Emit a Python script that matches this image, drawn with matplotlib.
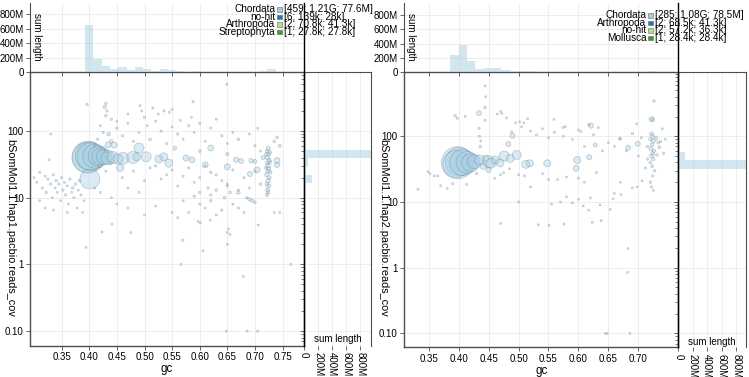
import matplotlib.pyplot as plt
import matplotlib.ticker as mticker
from matplotlib.lines import Line2D
from matplotlib.patches import Rectangle
import numpy as np

plt.rcParams['font.family'] = ['Liberation Sans', 'DejaVu Sans']

W, H = 749, 377

# ---- hap1 (left panel) ----
# contigs: (gc, coverage, length in Mb)
hap1_big = [
    (0.398, 40.7, 77.6), (0.401, 19.0, 30.0), (0.403, 41.0, 59.0), (0.396, 40.0, 70.0),
    (0.400, 42.0, 60.0), (0.410, 42.0, 44.0), (0.416, 42.0, 30.0), (0.421, 41.0, 24.0),
    (0.427, 41.0, 19.0), (0.434, 40.0, 15.0), (0.443, 40.0, 11.0), (0.452, 38.0, 7.6),
    (0.461, 39.0, 11.0), (0.479, 40.0, 11.0), (0.490, 55.6, 7.6), (0.503, 41.0, 7.6),
    (0.486, 41.0, 4.9), (0.526, 38.0, 4.9), (0.535, 41.0, 4.9), (0.544, 33.0, 4.9),
    (0.456, 28.0, 4.0), (0.445, 61.6, 2.7), (0.434, 62.0, 2.7), (0.575, 39.4, 2.7),
    (0.586, 37.0, 2.7), (0.620, 55.6, 2.7), (0.610, 31.0, 2.7), (0.650, 29.0, 2.7),
    (0.666, 37.0, 1.9), (0.675, 35.5, 1.9), (0.691, 22.7, 1.9), (0.704, 26.0, 2.7),
    (0.740, 36.0, 2.7), (0.740, 31.0, 1.9),
]
hap1_small = [
    (0.724, 55, 1.2), (0.722, 50, 0.8), (0.725, 45, 1.2), (0.723, 40, 1.5), (0.726, 36, 1.2),
    (0.722, 33, 1.0), (0.724, 30, 1.5), (0.725, 27, 1.2), (0.723, 25, 1.0), (0.721, 22, 1.2),
    (0.726, 20, 1.0), (0.724, 18, 1.5), (0.722, 16, 1.2), (0.725, 15, 1.0), (0.723, 13, 1.2),
    (0.724, 12, 1.0), (0.722, 11, 0.8), (0.727, 34, 0.8), (0.720, 28, 0.6), (0.728, 24, 0.8),
    (0.745, 60, 0.6), (0.735, 70, 0.5), (0.740, 80, 0.5), (0.720, 45, 0.6), (0.727, 48, 0.8),
    (0.300, 20, 0.3), (0.305, 17, 0.3), (0.310, 24, 0.4), (0.315, 14, 0.3), (0.320, 21, 0.3),
    (0.322, 12, 0.4), (0.325, 19, 0.3), (0.330, 16, 0.5), (0.333, 10, 0.3), (0.335, 22, 0.4),
    (0.338, 14, 0.3), (0.340, 18, 0.5), (0.342, 12, 0.3), (0.345, 16, 0.4), (0.348, 9, 0.3),
    (0.350, 20, 0.4), (0.352, 13, 0.5), (0.355, 17, 0.3), (0.357, 11, 0.4), (0.360, 15, 0.3),
    (0.362, 8, 0.3), (0.365, 19, 0.4), (0.368, 12, 0.3), (0.370, 14, 0.5), (0.372, 10, 0.3),
    (0.375, 16, 0.4), (0.378, 7, 0.3), (0.380, 13, 0.3), (0.382, 18, 0.4), (0.385, 11, 0.3),
    (0.388, 6, 0.3), (0.390, 9, 0.3), (0.310, 9, 0.3), (0.320, 7, 0.3), (0.335, 6.5, 0.3),
    (0.360, 6, 0.3), (0.327, 37, 0.3), (0.330, 90, 0.3),
    (0.396, 250, 0.4), (0.394, 1.8, 0.3), (0.430, 260, 0.5), (0.428, 230, 0.8), (0.432, 200, 0.4),
    (0.588, 275, 0.4), (0.649, 500, 0.3), (0.492, 240, 0.3), (0.535, 200, 0.4), (0.679, 0.66, 0.3),
    (0.566, 1.0, 0.3), (0.765, 1.0, 0.3), (0.606, 1.6, 0.3), (0.569, 2.3, 0.4), (0.475, 3.0, 0.3),
    (0.423, 3.05, 0.3), (0.441, 4.0, 0.3), (0.650, 2.0, 0.3), (0.650, 3.0, 0.3), (0.655, 2.8, 0.3),
    (0.652, 3.4, 0.3), (0.706, 3.9, 0.3), (0.619, 4.6, 0.3), (0.601, 4.2, 0.3), (0.597, 4.4, 0.3),
    (0.648, 0.1, 0.3), (0.686, 0.1, 0.3), (0.705, 0.1, 0.3),
    (0.58, 6, 0.3), (0.60, 8, 0.4), (0.61, 7, 0.3), (0.62, 9, 0.5), (0.63, 5.5, 0.3),
    (0.64, 6.5, 0.4), (0.66, 8, 0.3), (0.67, 7, 0.4), (0.55, 6, 0.3), (0.52, 7.5, 0.3),
    (0.50, 5.5, 0.3), (0.47, 7, 0.3), (0.45, 8, 0.3), (0.69, 9.5, 0.8), (0.695, 9, 0.8),
    (0.70, 8.5, 0.5), (0.68, 6, 0.3), (0.60, 12, 0.4), (0.62, 11, 0.4), (0.63, 13, 0.5),
    (0.65, 15, 0.4), (0.57, 9, 0.3), (0.56, 5, 0.3), (0.59, 10.5, 0.4), (0.645, 10, 0.5),
    (0.655, 12, 0.6), (0.615, 14, 0.4), (0.67, 12, 1.0), (0.685, 10, 0.4), (0.71, 16, 0.5),
    (0.735, 6, 0.3), (0.745, 6, 0.3),
    (0.44, 150, 0.4), (0.45, 110, 0.5), (0.46, 85, 0.4), (0.47, 130, 0.3), (0.48, 70, 0.4),
    (0.49, 95, 0.3), (0.50, 160, 0.4), (0.505, 120, 0.3), (0.51, 75, 0.5), (0.52, 140, 0.3),
    (0.525, 180, 0.3), (0.53, 100, 0.4), (0.54, 65, 0.4), (0.545, 190, 0.3), (0.55, 115, 0.3),
    (0.56, 90, 0.4), (0.565, 145, 0.3), (0.57, 75, 0.3), (0.58, 120, 0.4), (0.585, 160, 0.3),
    (0.59, 95, 0.3), (0.60, 130, 0.4), (0.61, 70, 0.3), (0.62, 110, 0.3), (0.63, 150, 0.3),
    (0.64, 85, 0.4), (0.65, 65, 0.3), (0.66, 95, 0.3), (0.67, 75, 0.5), (0.69, 90, 0.3),
    (0.70, 60, 0.4), (0.71, 50, 0.3), (0.705, 110, 0.3), (0.42, 120, 0.3), (0.43, 170, 0.5),
    (0.425, 95, 0.4), (0.415, 75, 0.4), (0.41, 60, 0.3), (0.45, 140, 0.3), (0.47, 180, 0.3),
    (0.495, 200, 0.3), (0.515, 220, 0.3), (0.55, 210, 0.3), (0.44, 70, 1.0), (0.425, 55, 1.0),
    (0.43, 50, 0.8), (0.435, 90, 1.0), (0.42, 30, 1.2), (0.438, 33, 1.0),
    (0.46, 20, 0.3), (0.48, 25, 0.4), (0.50, 18, 0.3), (0.52, 30, 0.4), (0.54, 22, 0.3),
    (0.56, 15, 0.3), (0.58, 28, 0.4), (0.60, 20, 0.3), (0.62, 24, 0.5), (0.64, 18, 0.3),
    (0.66, 26, 0.4), (0.68, 20, 0.3), (0.69, 14, 0.3), (0.70, 25, 0.4), (0.47, 14, 0.3),
    (0.49, 12, 0.3), (0.51, 28, 0.3), (0.53, 19, 0.3), (0.55, 26, 0.4), (0.57, 21, 0.3),
    (0.59, 17, 0.3), (0.61, 30, 0.3), (0.63, 22, 0.4), (0.65, 16, 0.3), (0.67, 13, 0.3),
    (0.43, 25, 0.3), (0.42, 12, 0.3), (0.44, 10, 0.3), (0.41, 14, 0.3), (0.693, 36, 1.5),
    (0.70, 35, 1.2), (0.715, 40, 1.2), (0.65, 45, 0.8), (0.60, 50, 0.6), (0.555, 55, 1.0),
]
hap1_gc_bins = [0.400, 0.415, 0.430, 0.445, 0.460, 0.475, 0.490, 0.505, 0.520, 0.535, 0.550, 0.565,
                0.580, 0.595, 0.610, 0.625, 0.640, 0.655, 0.670, 0.685, 0.700, 0.715, 0.730]
hap1_gc_sums = [649, 186, 83, 47, 75, 24, 65, 47, 10, 35, 25, 8, 6, 8, 5, 5, 4, 6, 4, 5, 5, 8, 47]
hap1_cov_edges = [12.3, 16.4, 21.9, 29.2, 39.0, 51.9, 69.0]
hap1_cov_sums = [6, 109, 5, 57, 1000, 28]
hap1_legend = [("Chordata", "[459; 1.21G; 77.6M]"), ("no-hit", "[6; 139k; 28k]"),
               ("Arthropoda", "[2; 70.8k; 41.3k]"), ("Streptophyta", "[1; 27.8k; 27.8k]")]

# ---- hap2 (right panel) ----
hap2_big = [
    (0.398, 39.6, 78.5), (0.401, 41.0, 60.0), (0.396, 38.0, 55.0), (0.407, 40.0, 52.0),
    (0.414, 40.0, 37.0), (0.420, 40.0, 25.0), (0.426, 41.0, 15.0), (0.435, 43.6, 7.7),
    (0.450, 41.0, 11.0), (0.454, 38.8, 7.7), (0.461, 43.6, 4.9), (0.469, 39.3, 4.9),
    (0.476, 50.0, 7.7), (0.486, 46.0, 4.9), (0.497, 52.0, 6.2), (0.512, 37.5, 4.9),
    (0.519, 38.8, 3.8), (0.548, 38.8, 3.8), (0.598, 43.6, 3.8), (0.596, 32.6, 2.7),
    (0.618, 48.0, 1.9), (0.621, 145, 1.9), (0.628, 74.0, 1.2), (0.683, 67.0, 1.9),
    (0.699, 77.0, 1.9), (0.722, 182, 1.9), (0.434, 226, 1.9), (0.483, 76.0, 1.9),
    (0.490, 102, 1.9), (0.450, 30.6, 1.9), (0.441, 35.0, 3.0), (0.445, 46.0, 3.0),
]
hap2_small = [
    (0.722, 110, 1.0), (0.724, 100, 1.2), (0.720, 90, 0.8), (0.725, 85, 1.2), (0.723, 75, 1.0),
    (0.721, 65, 1.2), (0.726, 60, 0.8), (0.724, 55, 1.0), (0.722, 50, 1.2), (0.725, 45, 0.8),
    (0.720, 40, 0.6), (0.723, 35, 0.6), (0.727, 30, 0.5), (0.724, 25, 0.4), (0.720, 20, 0.5),
    (0.722, 17, 0.4), (0.725, 15, 0.3), (0.730, 93, 0.8), (0.733, 80, 0.6), (0.735, 68, 0.6),
    (0.731, 52, 0.5), (0.726, 344, 0.5), (0.737, 83, 0.4), (0.742, 55, 0.4), (0.724, 180, 1.0),
    (0.332, 15.6, 0.3), (0.349, 29, 0.3), (0.352, 27, 0.3), (0.359, 25, 0.3), (0.365, 25, 0.3),
    (0.370, 17.7, 0.3), (0.381, 16, 0.3), (0.4135, 18.5, 0.3), (0.394, 205, 0.5), (0.398, 188, 0.4),
    (0.444, 583, 0.3), (0.445, 400, 0.3), (0.444, 273, 0.5), (0.444, 175, 0.4), (0.411, 200, 0.3),
    (0.4645, 218, 0.3), (0.472, 222, 0.3), (0.4885, 117, 0.3), (0.502, 167, 0.3), (0.509, 160, 0.3),
    (0.515, 185, 0.3), (0.559, 181, 0.3), (0.574, 136, 0.3), (0.578, 140, 0.3), (0.604, 118, 0.3),
    (0.6175, 150, 0.4), (0.633, 136, 0.3), (0.669, 93, 0.5), (0.67, 90, 0.3), (0.697, 155, 0.3),
    (0.434, 132, 0.4), (0.435, 100, 0.4), (0.437, 85, 0.3), (0.436, 70, 0.5), (0.47, 240, 0.3),
    (0.48, 190, 0.3), (0.495, 160, 0.3), (0.505, 140, 0.3), (0.52, 120, 0.3), (0.53, 105, 0.4),
    (0.54, 130, 0.3), (0.55, 95, 0.3), (0.56, 115, 0.4), (0.575, 100, 0.3), (0.59, 90, 0.3),
    (0.60, 125, 0.3), (0.61, 70, 0.3), (0.625, 105, 0.3), (0.64, 60, 0.4), (0.65, 80, 0.3),
    (0.66, 70, 0.3), (0.68, 60, 0.3), (0.70, 50, 0.3), (0.69, 110, 0.4), (0.705, 95, 0.3),
    (0.715, 70, 0.4), (0.74, 130, 0.3), (0.745, 90, 0.3),
    (0.533, 4.5, 0.3), (0.551, 4.4, 0.3), (0.576, 4.6, 0.3), (0.623, 4.9, 0.3), (0.638, 5.2, 0.3),
    (0.555, 9.3, 0.3), (0.683, 1.96, 0.3), (0.682, 0.85, 0.3), (0.59, 9.7, 0.3), (0.608, 8.7, 0.3),
    (0.617, 7.5, 0.3), (0.636, 9.0, 0.3), (0.653, 7.7, 0.3), (0.658, 11.2, 0.3), (0.671, 13, 0.3),
    (0.690, 16.5, 0.3), (0.698, 17, 0.3), (0.706, 21, 0.3), (0.712, 33, 0.4), (0.715, 45, 0.4),
    (0.54, 27, 0.3), (0.55, 22, 0.3), (0.565, 22, 0.3), (0.58, 24, 0.3), (0.60, 23, 0.3),
    (0.61, 20, 0.3), (0.63, 28, 0.4), (0.51, 25, 0.3), (0.52, 17, 0.3), (0.50, 26, 0.3),
    (0.485, 32, 0.3), (0.47, 26, 0.3), (0.475, 28, 0.3), (0.58, 12, 0.3), (0.60, 11, 0.3),
    (0.57, 10, 0.3), (0.62, 11.5, 0.3), (0.66, 13.5, 0.3), (0.67, 20, 0.3), (0.39, 19, 0.3),
    (0.43, 27, 0.4), (0.46, 23, 0.3), (0.645, 0.1, 0.3), (0.648, 0.1, 0.3), (0.686, 0.1, 0.3),
    (0.50, 10, 0.3), (0.47, 4.7, 0.3),
]
hap2_gc_bins = [0.393, 0.407, 0.421, 0.435, 0.450, 0.464, 0.478, 0.492, 0.506, 0.520, 0.535, 0.549,
                0.563, 0.577, 0.591, 0.605, 0.620, 0.634, 0.648, 0.662, 0.676, 0.690, 0.705, 0.723]
hap2_gc_sums = [242, 378, 158, 46, 64, 55, 30, 18, 18, 15, 8, 5, 5, 4, 5, 4, 3, 4, 3, 3, 3, 4, 5, 18]
hap2_cov_edges = [23.5, 31.8, 43.6, 58.3, 78.0]
hap2_cov_sums = [6, 980, 90, 8]
hap2_legend = [("Chordata", "[285; 1.08G; 78.5M]"), ("Arthropoda", "[2; 68.5k; 41.3k]"),
               ("no-hit", "[2; 57.2k; 36.3k]"), ("Mollusca", "[1; 28.4k; 28.4k]")]

legend_colors = ['#a6cee3', '#1f78b4', '#b2df8a', '#33a02c']
hist_ticks = [0, 200, 400, 600, 800]
hist_labels = ['0', '200M', '400M', '600M', '800M']

FRAME = '#4d4d4d'
GRID = '#ebebeb'
FS = 7.0


def box(x0, y0, x1, y1):
    return [x0 / W, 1 - y1 / H, (x1 - x0) / W, (y1 - y0) / H]


def draw_panel(fig, g, xlim, ylim, xticks, big, small, gc_bins, gc_w, gc_sums,
               cov_edges, cov_sums, top_max, right_max, ylabel, legend):
    x0, x1, xr, y0, y1 = g['x0'], g['x1'], g['xr'], g['y0'], g['y1']

    # main scatter
    ax = fig.add_axes(box(x0, y0, x1, y1))
    ax.set_facecolor('none')
    ax.set_yscale('log')
    ax.set_xlim(xlim)
    ax.set_ylim(ylim)
    contigs = sorted(big + small, key=lambda c: -c[2])
    gc = [c[0] for c in contigs]
    cov = [c[1] for c in contigs]
    ln = np.array([c[2] for c in contigs])
    ax.scatter(gc, cov, s=ln * 6.8, facecolor=(0.651, 0.808, 0.89, 0.4),
               edgecolor=(0.36, 0.47, 0.56, 0.4), linewidths=0.5, zorder=3)
    ax.set_xticks(xticks)
    ax.set_xticklabels(['%.2f' % t for t in xticks])
    ax.set_yticks([0.1, 1, 10, 100])
    ax.set_yticklabels(['0.10', '1', '10', '100'])
    ax.yaxis.set_minor_locator(mticker.NullLocator())
    ax.grid(True, color=GRID, lw=0.6)
    ax.set_axisbelow(True)
    for s in ax.spines.values():
        s.set_color(FRAME)
        s.set_linewidth(1.0)
    ax.tick_params(length=3, width=0.6, color=FRAME, labelsize=FS, pad=1.5)
    ax.set_xlabel('gc', fontsize=8.3, labelpad=1)
    fig.text(g['ylab_x'] / W, 1 - 228 / H, ylabel, rotation=270, fontsize=7.8,
             ha='center', va='center')

    # top histogram
    axt = fig.add_axes(box(x0, 3, x1, y0))
    axt.set_facecolor('none')
    axt.bar(gc_bins, gc_sums, width=gc_w, color=(0.651, 0.808, 0.89, 0.5), lw=0)
    axt.set_xlim(xlim)
    axt.set_ylim(0, top_max)
    axt.set_xticks(xticks)
    axt.set_xticklabels([])
    axt.set_yticks(hist_ticks)
    axt.set_yticklabels(hist_labels)
    axt.grid(True, color=GRID, lw=0.6)
    axt.set_axisbelow(True)
    for k in ['top', 'right', 'bottom']:
        axt.spines[k].set_visible(False)
    axt.spines['left'].set_color(FRAME)
    axt.tick_params(length=3, width=0.6, color=FRAME, labelsize=FS, pad=1.5)
    fig.text((x0 + 6.7) / W, 1 - 36.7 / H, 'sum length', rotation=270, fontsize=FS,
             ha='center', va='center')

    # right histogram
    axr = fig.add_axes(box(x1, y0, xr, y1))
    axr.set_facecolor('none')
    axr.set_yscale('log')
    axr.barh(cov_edges[:-1], cov_sums, height=np.diff(cov_edges), align='edge',
             color=(0.651, 0.808, 0.89, 0.5), lw=0)
    axr.set_ylim(ylim)
    axr.set_xlim(0, right_max)
    axr.set_xticks(hist_ticks)
    axr.set_xticklabels(hist_labels, rotation=270, va='top', ha='center')
    axr.set_yticks([0.1, 1, 10, 100])
    axr.yaxis.set_minor_locator(mticker.LogLocator(subs=np.arange(2, 10)))
    axr.yaxis.set_minor_formatter(mticker.NullFormatter())
    axr.set_yticklabels([])
    axr.grid(True, which='major', color=GRID, lw=0.6)
    axr.set_axisbelow(True)
    axr.spines['left'].set_visible(False)
    axr.spines['bottom'].set_visible(False)
    axr.spines['top'].set_color(FRAME)
    axr.spines['right'].set_color(FRAME)
    axr.tick_params(length=3, width=0.6, color=FRAME, labelsize=FS, pad=1.5)
    axr.tick_params(axis='y', which='minor', length=2, width=0.5, color=FRAME)
    fig.text((x1 + xr) / 2 / W, 1 - g['sl_y'] / H, 'sum length', fontsize=FS,
             ha='center', va='center')

    # black divider
    fig.add_artist(Line2D([x1 / W, x1 / W], [1 - 3 / H, 1 - y1 / H],
                          color='black', lw=1.0))

    # legend
    for i, (name, stats) in enumerate(legend):
        yy = g['leg_y'] + i * 7.6
        fig.text((g['leg_x'] - 2) / W, 1 - yy / H, name, ha='right', va='center', fontsize=7.2)
        fig.add_artist(Rectangle((g['leg_x'] / W, 1 - (yy + 2.6) / H), 4.6 / W, 4.6 / H,
                                 transform=fig.transFigure, facecolor=legend_colors[i],
                                 edgecolor='#666666', lw=0.4))
        fig.text((g['leg_x'] + 6.5) / W, 1 - yy / H, stats, ha='left', va='center', fontsize=7.2)


fig = plt.figure(figsize=(W / 100, H / 100), dpi=100, facecolor='white')

g1 = dict(x0=30, x1=304, xr=371, y0=72, y1=345.5, ylab_x=10, sl_y=339, leg_x=277.3, leg_y=9)
draw_panel(fig, g1, (0.2926, 0.7889), (0.0608, 766.6),
           [0.35, 0.40, 0.45, 0.50, 0.55, 0.60, 0.65, 0.70, 0.75],
           hap1_big, hap1_small, hap1_gc_bins, 0.015, hap1_gc_sums,
           hap1_cov_edges, hap1_cov_sums, 958, 950,
           'bSomMol1.1.hap1.pacbio.reads_cov', hap1_legend)

g2 = dict(x0=404, x1=678.3, xr=745.7, y0=72.3, y1=347.3, ylab_x=383.5, sl_y=342, leg_x=648.3, leg_y=15)
draw_panel(fig, g2, (0.3088, 0.7667), (0.0614, 942),
           [0.35, 0.40, 0.45, 0.50, 0.55, 0.60, 0.65, 0.70],
           hap2_big, hap2_small, hap2_gc_bins, 0.0142, hap2_gc_sums,
           hap2_cov_edges, hap2_cov_sums, 969, 930,
           'bSomMol1.1.hap2.pacbio.reads_cov', hap2_legend)

fig.savefig('out.png', dpi=100)
